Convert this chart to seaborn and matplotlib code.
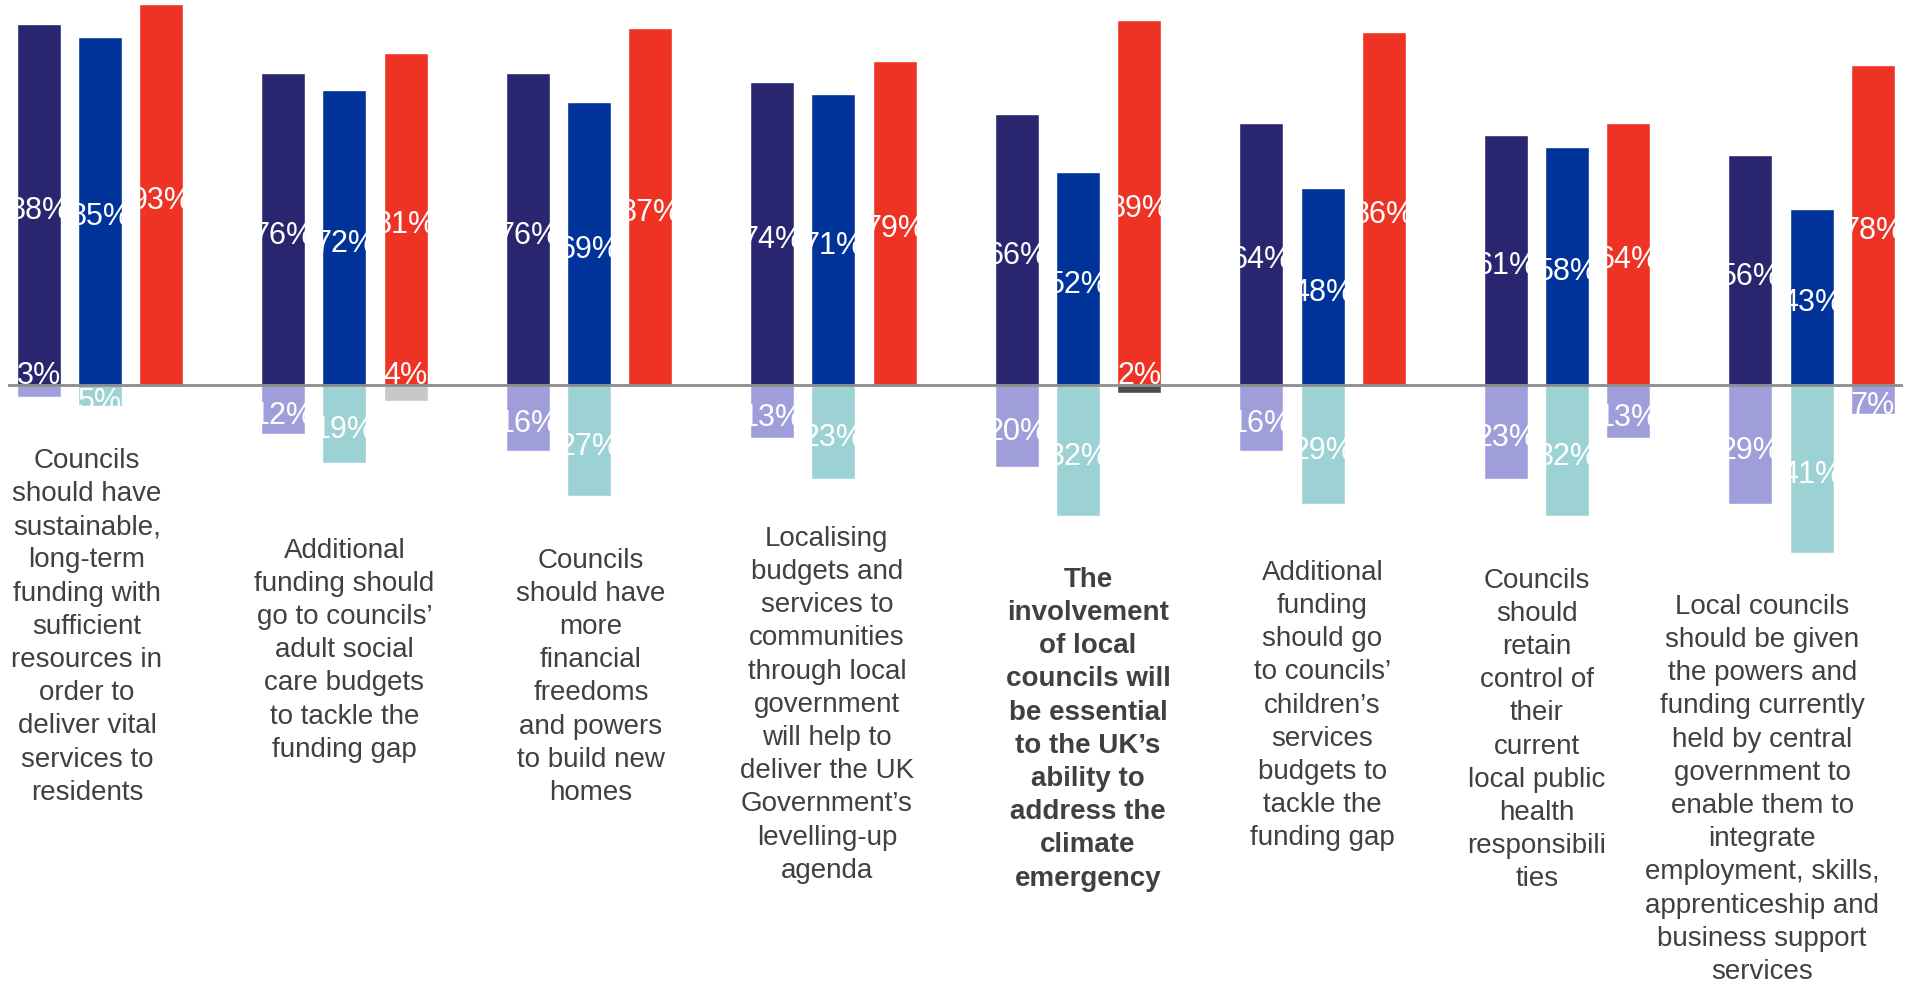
import matplotlib
matplotlib.use("Agg")
import matplotlib.pyplot as plt
import seaborn as sns
import pandas as pd
from matplotlib.patches import Rectangle

# ---------------- data ----------------
categories = [
    "Councils\nshould have\nsustainable,\nlong-term\nfunding with\nsufficient\nresources in\norder to\ndeliver vital\nservices to\nresidents",
    "Additional\nfunding should\ngo to councils’\nadult social\ncare budgets\nto tackle the\nfunding gap",
    "Councils\nshould have\nmore\nfinancial\nfreedoms\nand powers\nto build new\nhomes",
    "Localising\nbudgets and\nservices to\ncommunities\nthrough local\ngovernment\nwill help to\ndeliver the UK\nGovernment’s\nlevelling-up\nagenda",
    "The\ninvolvement\nof local\ncouncils will\nbe essential\nto the UK’s\nability to\naddress the\nclimate\nemergency",
    "Additional\nfunding\nshould go\nto councils’\nchildren’s\nservices\nbudgets to\ntackle the\nfunding gap",
    "Councils\nshould\nretain\ncontrol of\ntheir\ncurrent\nlocal public\nhealth\nresponsibili\nties",
    "Local councils\nshould be given\nthe powers and\nfunding currently\nheld by central\ngovernment to\nenable them to\nintegrate\nemployment, skills,\napprenticeship and\nbusiness support\nservices",
]
series = ["Series 1", "Series 2", "Series 3"]

s1_agree = [88, 76, 76, 74, 66, 64, 61, 56]
s2_agree = [85, 72, 69, 71, 52, 48, 58, 43]
s3_agree = [93, 81, 87, 79, 89, 86, 64, 78]

s1_disagree = [3, 12, 16, 13, 20, 16, 23, 29]
s2_disagree = [5, 19, 27, 23, 32, 29, 32, 41]
s3_disagree = [0, 4, 0, 0, 2, 0, 13, 7]

# ---------------- style / layout ----------------
agree_colors = ["#29266F", "#003399", "#EE3224"]
disagree_colors = ["#9F9EDB", "#9DD2D5", "#C8C8C8"]
s3_disagree_colors = ["#C8C8C8", "#C8C8C8", "#C8C8C8", "#C8C8C8",
                      "#4D4D4D", "#C8C8C8", "#9F9EDB", "#9F9EDB"]
label_dx = [-0.053, 0.0, 0.008, -0.027, 0.041, 0.0, -0.123, -0.202]
label_top = [-15.05, -37.0, -39.4, -34.1, -44.1, -42.4, -44.3, -50.7]
bold_label = 4

sns.set_theme(style="white")
plt.rcParams["font.family"] = ["Liberation Sans", "DejaVu Sans"]

keys = [f"c{i}" for i in range(len(categories))]

pos_df = pd.DataFrame({
    "key": keys * 3,
    "series": [s for s in series for _ in keys],
    "value": s1_agree + s2_agree + s3_agree,
})
neg_df = pd.DataFrame({
    "key": keys * 3,
    "series": [s for s in series for _ in keys],
    "value": [-v for v in s1_disagree + s2_disagree + s3_disagree],
})

fig = plt.figure(figsize=(19.06, 9.87), dpi=100)
ax = fig.add_axes([8 / 1906, 0, 1895 / 1906, 1])

common = dict(x="key", y="value", hue="series", order=keys, hue_order=series,
              width=0.75, gap=0.28, errorbar=None, legend=False,
              saturation=1, ax=ax)
sns.barplot(data=pos_df, palette=agree_colors, **common)
sns.barplot(data=neg_df, palette=disagree_colors, **common)

# recolour the third "disagree" series per group
for patch, col in zip(ax.containers[5].patches, s3_disagree_colors):
    patch.set_facecolor(col)

ytop, ybot = 94.15, -146.59
ax.set_xlim(-0.376, 7.374)
ax.set_ylim(ybot, ytop)
ax.set_axis_off()
ax.axhline(0, color="#8C8C8C", lw=2, zorder=5)

# value labels, clipped to each bar's width
for ci, cont in enumerate(ax.containers):
    for p in cont.patches:
        h = p.get_height()
        v = abs(h)
        if v == 0:
            continue
        x0, w = p.get_x(), p.get_width()
        if h < 0 and v < 5:
            y, va = 0.6, "baseline"
        else:
            y, va = h / 2 - 1.3, "center"
        t = ax.text(x0 + w / 2, y, f"{int(round(v))}%", ha="center", va=va,
                    color="white", fontsize=22, zorder=6)
        clip = Rectangle((x0, min(0, h)), w, ytop - min(0, h),
                         transform=ax.transData)
        t.set_clip_path(clip)

# category labels
for i, txt in enumerate(categories):
    ax.text(i + label_dx[i], label_top[i], txt, ha="center", va="top",
            multialignment="center", fontsize=20, color="#404040",
            linespacing=1.36,
            fontweight="bold" if i == bold_label else "normal",
            clip_on=False)

fig.savefig("out.png", dpi=100)
